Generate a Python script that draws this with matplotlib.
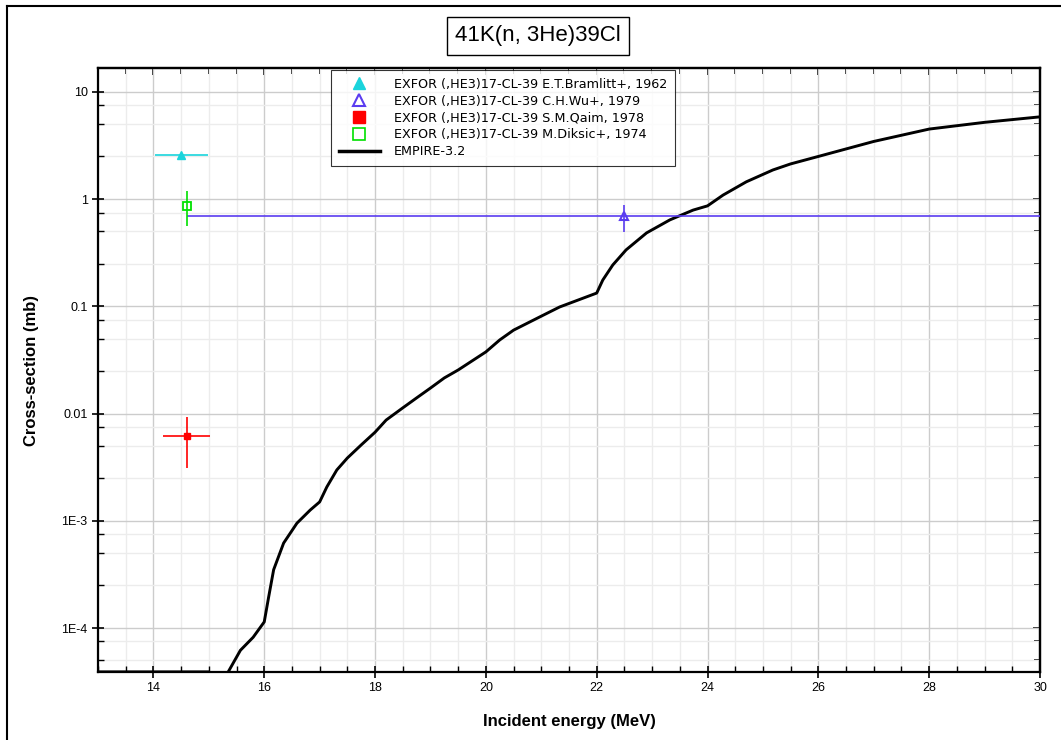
import numpy as np
import matplotlib
matplotlib.use("Agg")
import matplotlib.pyplot as plt
from matplotlib.lines import Line2D
from matplotlib.ticker import FixedLocator, FixedFormatter, MultipleLocator, NullFormatter

plt.rcParams["font.family"] = ["Liberation Sans", "DejaVu Sans"]

# EMPIRE-3.2 evaluation
emp_e = [13.0, 15.0, 15.2, 15.35, 15.57, 15.8, 16.0, 16.08, 16.17, 16.35, 16.59, 16.83,
         17.0, 17.13, 17.31, 17.5, 17.75, 18.0, 18.2, 18.5, 18.75, 19.0, 19.25,
         19.5, 20.0, 20.25, 20.5, 21.0, 21.33, 22.0, 22.11, 22.29, 22.53, 22.9,
         23.32, 23.74, 24.0, 24.28, 24.7, 25.18, 25.5, 26.0, 27.0, 28.0, 29.0, 30.0]
emp_xs = [3.9e-5, 3.9e-5, 3.0e-5, 3.9e-5, 6.2e-5, 8.2e-5, 1.14e-4, 1.95e-4, 3.5e-4, 6.2e-4, 9.5e-4, 1.26e-3,
          1.5e-3, 2.07e-3, 2.98e-3, 3.85e-3, 5.1e-3, 6.7e-3, 8.7e-3, 0.0113, 0.014, 0.0173, 0.0215,
          0.0255, 0.0376, 0.0486, 0.060, 0.081, 0.0986, 0.133, 0.176, 0.243, 0.336, 0.484,
          0.64, 0.79, 0.865, 1.09, 1.45, 1.87, 2.13, 2.5, 3.45, 4.5, 5.2, 5.85]

# EXFOR data sets
bram_e, bram_de, bram_xs = [14.5], [0.48], [2.57]
wu_e, wu_de, wu_xs, wu_dxs = [22.5], [7.9], [0.69], [0.2]
qaim_e, qaim_de, qaim_xs, qaim_dxs = [14.6], [0.42], [0.0062], [0.0031]
dik_e, dik_xs, dik_dxs = [14.6], [0.87], [0.31]

labels = ["EXFOR (,HE3)17-CL-39 E.T.Bramlitt+, 1962",
          "EXFOR (,HE3)17-CL-39 C.H.Wu+, 1979",
          "EXFOR (,HE3)17-CL-39 S.M.Qaim, 1978",
          "EXFOR (,HE3)17-CL-39 M.Diksic+, 1974",
          "EMPIRE-3.2"]

ytick_vals = [1e-4, 1e-3, 0.01, 0.1, 1, 10]
ytick_labels = ["1E-4", "1E-3", "0.01", "0.1", "1", "10"]

W, H = 1061, 740
fig = plt.figure(figsize=(W / 100, H / 100), dpi=100)
ax = fig.add_axes([98 / W, 1 - 672 / H, (1040 - 98) / W, (672 - 68) / H])

c_bram, c_wu, c_qaim, c_dik = "#1ad4dc", "#5a3cf0", "#ff0000", "#00e000"

ax.errorbar(bram_e, bram_xs, xerr=bram_de, fmt="^", ms=6, color=c_bram, elinewidth=1.2, capsize=0, zorder=4)
ax.errorbar(wu_e, wu_xs, xerr=wu_de, yerr=wu_dxs, fmt="^", ms=6, mfc="none", mec=c_wu, mew=1.5,
            color=c_wu, elinewidth=1.2, capsize=0, zorder=4)
ax.errorbar(qaim_e, qaim_xs, xerr=qaim_de, yerr=qaim_dxs, fmt="s", ms=5, color=c_qaim,
            elinewidth=1.2, capsize=0, zorder=4)
ax.errorbar(dik_e, dik_xs, yerr=dik_dxs, fmt="s", ms=6, mfc="none", mec=c_dik, mew=1.3,
            color=c_dik, elinewidth=1.2, capsize=0, zorder=4)
ax.plot(emp_e, emp_xs, color="black", lw=2.1, zorder=3)

ax.set_yscale("log")
ax.set_xlim(13, 30)
ax.set_ylim(3.89e-5, 16.7)

minor_y = [m * 10.0 ** k for k in range(-5, 2) for m in (2.5, 5, 7.5)]

ax.xaxis.set_major_locator(MultipleLocator(2))
ax.xaxis.set_minor_locator(MultipleLocator(0.5))
ax.yaxis.set_major_locator(FixedLocator(ytick_vals))
ax.yaxis.set_minor_locator(FixedLocator(minor_y))
ax.yaxis.set_minor_formatter(NullFormatter())
ax.yaxis.set_major_formatter(FixedFormatter(ytick_labels))

ax.grid(True, which="major", color="#cccccc", lw=1.0)
ax.grid(True, which="minor", color="#ececec", lw=1.0)
ax.set_axisbelow(True)

ax.tick_params(which="major", direction="inout", length=9, width=1.2, labelsize=9, pad=3)
ax.tick_params(which="minor", direction="in", length=4, width=1.0)
for s in ax.spines.values():
    s.set_linewidth(1.6)

# top and right ticks point inward only
top = ax.secondary_xaxis("top")
top.xaxis.set_major_locator(MultipleLocator(2))
top.xaxis.set_minor_locator(MultipleLocator(0.5))
top.tick_params(which="both", direction="in", labeltop=False, width=1.2, color="black")
top.tick_params(which="major", length=5)
top.tick_params(which="minor", length=4)
right = ax.secondary_yaxis("right")
right.yaxis.set_major_locator(FixedLocator(ytick_vals))
right.yaxis.set_minor_locator(FixedLocator(minor_y))
right.yaxis.set_minor_formatter(NullFormatter())
right.tick_params(which="both", direction="in", labelright=False, width=1.2, color="black")
right.tick_params(which="major", length=5)
right.tick_params(which="minor", length=4)
top.spines["top"].set_linewidth(1.6)
right.spines["right"].set_linewidth(1.6)

ax.set_xlabel("Incident energy (MeV)", fontsize=12, fontweight="bold", labelpad=14)
ax.set_ylabel("Cross-section (mb)", fontsize=12, fontweight="bold", labelpad=16)

handles = [
    Line2D([], [], ls="none", marker="^", ms=8, color=c_bram),
    Line2D([], [], ls="none", marker="^", ms=8, mfc="none", mec=c_wu, mew=1.5),
    Line2D([], [], ls="none", marker="s", ms=9, color=c_qaim),
    Line2D([], [], ls="none", marker="s", ms=9, mfc="none", mec=c_dik, mew=1.2),
    Line2D([], [], color="black", lw=2.5),
]
leg = ax.legend(handles, labels, loc="upper left", bbox_to_anchor=((331 - 98) / 942, (672 - 70) / 604),
                borderaxespad=0, fontsize=9.2, frameon=True, fancybox=False, handlelength=3.2,
                handletextpad=1.1, labelspacing=0.3, borderpad=0.6)
leg.get_frame().set_edgecolor("black")
leg.get_frame().set_linewidth(0.8)
for t in leg.get_texts():
    t.set_family(["DejaVu Sans"])

fig.text(538 / W, 1 - 36 / H, "41K(n, 3He)39Cl", ha="center", va="center", fontsize=16,
         bbox=dict(boxstyle="square,pad=0.38", fc="white", ec="black", lw=1.0))

# outer frame (left and top visible)
fig.add_artist(Line2D([7 / W, 7 / W], [0, 1 - 6 / H], transform=fig.transFigure, color="black", lw=1.5))
fig.add_artist(Line2D([7 / W, 1], [1 - 6 / H, 1 - 6 / H], transform=fig.transFigure, color="black", lw=1.5))

fig.savefig("out.png", dpi=100)
